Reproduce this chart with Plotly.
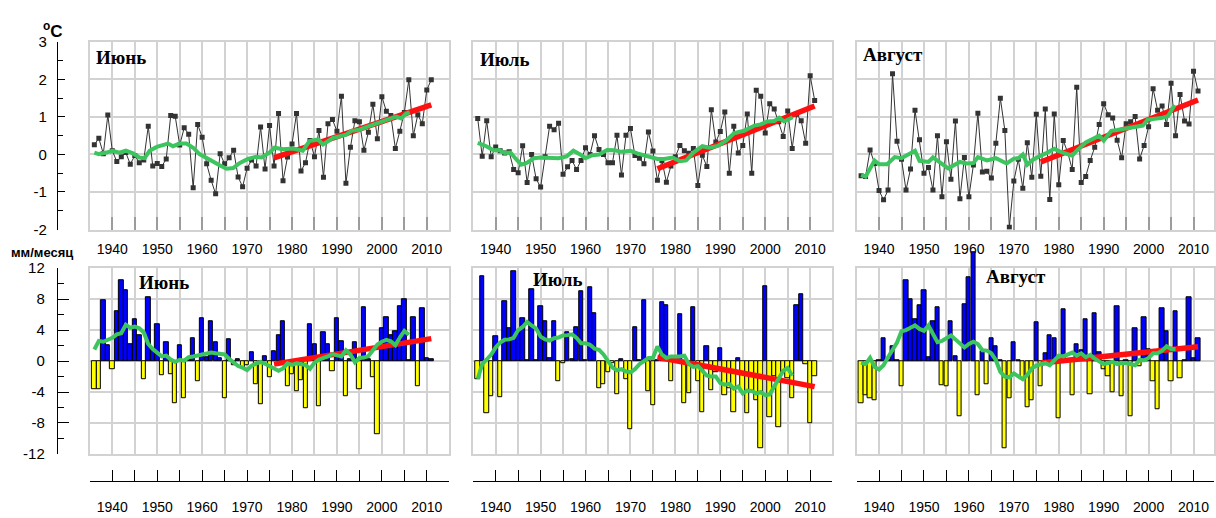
import plotly.graph_objects as go

# ---------------------------------------------------------------- data
YEARS = list(range(1936, 2012))
MONTHS = ["Июнь", "Июль", "Август"]

# Air temperature anomalies, °C
TEMP_JUN = [0.26, 0.43, 0.02, 1.05, 0.10, -0.19, -0.06, 0.05, -0.26, -0.03,
            -0.22, -0.15, 0.75, -0.31, -0.24, -0.32, -0.12, 1.04, 1.02, 0.25,
            0.71, 0.54, -0.89, 0.80, 0.46, -0.25, -0.69, -1.05, 0.02, -0.25,
            -0.09, 0.11, -0.60, -0.86, -0.37, -0.15, -0.31, 0.73, -0.39, 0.77,
            -0.31, 1.09, -0.70, -0.07, 0.28, 1.09, -0.44, -0.22, 0.37, -0.06,
            0.64, -0.61, 0.82, 0.93, 0.62, 1.55, -0.77, 0.19, 0.90, 0.87,
            0.11, 0.59, 1.34, 0.42, 1.54, 1.15, 1.04, 0.16, 0.62, 1.12,
            1.99, 0.50, 1.06, 0.82, 1.72, 1.99]
TEMP_JUL = [0.96, -0.05, 0.90, -0.06, 0.20, 0.10, 0.04, 0.07, -0.40, -0.49,
            0.23, -0.75, 0.00, -0.65, -0.87, -0.06, 0.75, 0.66, 0.83, -0.53,
            -0.33, -0.16, -0.40, -0.16, 0.18, 0.00, 0.50, 0.13, 0.00, -0.22,
            -0.22, 0.51, -0.55, 0.51, 0.69, -0.03, -0.10, -0.25, 0.60, 0.09,
            -0.69, -0.16, -0.74, -0.31, -0.06, 0.24, 0.10, 0.03, 0.16, -0.83,
            -0.02, -0.32, 1.19, 0.33, 0.61, 1.13, -0.50, 0.75, 0.04, 0.24,
            1.08, -0.50, 1.71, 1.55, 0.57, 1.35, 1.21, 0.87, 0.48, 1.16,
            0.16, 1.07, 0.90, 0.30, 2.10, 1.44]
TEMP_AUG = [-0.57, -0.59, 0.12, -0.24, -0.96, -1.21, -0.95, 2.15, 0.35, -0.13,
            -0.95, -0.39, 1.18, 0.39, -0.50, -0.35, -0.95, 0.50, -1.13, 0.34,
            -0.66, 0.89, -1.18, -0.08, -1.13, -0.28, 1.10, -0.47, -0.45, -0.63,
            0.30, 1.50, 0.64, -1.94, -0.71, -0.13, -0.90, 0.31, -0.61, 1.07,
            -0.58, 1.21, -1.20, 1.08, -0.81, 0.37, 0.05, -0.40, 1.79, -0.75,
            -0.59, -0.16, 0.19, 0.80, 1.35, 1.06, 0.97, 0.38, -0.09, 0.82,
            0.87, 1.01, -0.12, 0.24, 0.74, 1.75, 1.18, 1.29, 0.80, 1.90,
            0.50, 1.60, 0.89, 0.81, 2.22, 1.69]

# Smoothed temperature curves (year, value)
TEMP_JUN_SM_X = [1936, 1937, 1938.7, 1940, 1941.6, 1943, 1944.6, 1946, 1947.2, 1948.3,
                 1949.9, 1951.3, 1952.4, 1953.5, 1955, 1956.5, 1958, 1959.4, 1960.9, 1962.4,
                 1963.9, 1965.4, 1966.9, 1968.3, 1970.2, 1972, 1973.2, 1975, 1976.1, 1978,
                 1980.2, 1982.4, 1983.9, 1985.8, 1986.9, 1989.1, 1990.6, 1992.1, 1993.2, 1995,
                 1996.5, 1998, 2000.2, 2001.7, 2003.2, 2004.3, 2005.4, 2006.2]
TEMP_JUN_SM = [0.05, 0.01, 0.05, 0.10, 0.05, 0.10, 0.03, -0.08, -0.10, 0.10,
               0.20, 0.25, 0.29, 0.22, 0.29, 0.29, 0.18, 0.01, -0.10, -0.21,
               -0.29, -0.38, -0.36, -0.23, -0.12, -0.06, -0.08, 0.05, 0.18, 0.14,
               0.16, 0.10, 0.36, 0.40, 0.27, 0.44, 0.49, 0.53, 0.63, 0.66,
               0.73, 0.79, 0.88, 0.96, 1.01, 0.96, 1.09, 1.12]
TEMP_JUL_SM_X = [1936, 1937.9, 1939.5, 1940.7, 1942, 1943.3, 1944.5, 1945.7, 1947, 1948.5,
                 1950, 1952, 1954, 1955.8, 1957.3, 1958.8, 1960, 1961.5, 1963, 1964.8,
                 1966.5, 1968, 1970, 1971.5, 1973, 1974.5, 1976, 1977.5, 1979.4, 1981,
                 1982.4, 1984, 1986, 1987.6, 1989.4, 1991.3, 1993.1, 1995.3, 1997.6, 1999,
                 2000.5, 2002, 2003.1, 2004.2, 2006.1]
TEMP_JUL_SM = [0.31, 0.22, 0.11, 0.12, 0.04, 0.05, -0.12, -0.27, -0.22, -0.10,
               -0.08, -0.08, -0.10, -0.05, 0.10, 0.00, -0.10, -0.02, 0.00, 0.12,
               0.11, 0.07, 0.10, 0.03, -0.02, -0.08, -0.12, -0.12, -0.08, -0.18,
               -0.16, 0.05, 0.22, 0.18, 0.23, 0.37, 0.57, 0.63, 0.77, 0.80,
               0.88, 0.89, 0.98, 0.88, 0.99]
TEMP_AUG_SM_X = [1936, 1937, 1939, 1940, 1941.8, 1943.5, 1945, 1947, 1948, 1949,
                 1951, 1952, 1954, 1955.4, 1958, 1959.5, 1961, 1962, 1964, 1966,
                 1968.4, 1970, 1971, 1972, 1973, 1974, 1976, 1977, 1979, 1980.6,
                 1983, 1984, 1986, 1988, 1989, 1990, 1991.7, 1993, 1996, 1998.7,
                 1999.8, 2001.3, 2002.8, 2004.3, 2005.8]
TEMP_AUG_SM = [-0.55, -0.59, -0.16, -0.26, -0.26, -0.07, -0.10, 0.02, 0.10, -0.17,
               -0.20, -0.08, -0.24, -0.37, -0.20, -0.24, -0.23, -0.07, -0.16, -0.10,
               -0.24, -0.11, -0.10, 0.00, -0.27, -0.16, -0.03, 0.02, 0.15, 0.06,
               -0.03, 0.10, 0.32, 0.43, 0.50, 0.37, 0.63, 0.65, 0.71, 0.77,
               0.93, 0.95, 0.97, 1.02, 1.32]

# Linear trends over 1976-2011
TREND_YEARS = [1976, 2011]
TEMP_JUN_TREND = [-0.09, 1.32]
TEMP_JUL_TREND = [-0.38, 1.29]
TEMP_AUG_TREND = [-0.20, 1.45]

# Precipitation anomalies, mm/month
PREC_JUN = [-3.6, -3.6, 7.9, 2.1, -1.1, 6.5, 10.4, 9.1, 2.2, 5.4,
            3.4, -2.3, 8.2, 1.5, 4.7, -1.8, 2.5, -1.65, -5.4, 2.0,
            -4.8, 0.3, 2.9, -2.6, 5.6, 0.5, 5.2, 2.5, 0.4, -4.8,
            2.8, -0.6, 0.2, -0.9, -0.6, 1.1, -3.0, -5.6, 0.6, -2.1,
            1.3, 3.4, 5.15, -3.2, -1.7, -3.9, -2.5, -6.15, 4.7, 2.2,
            -5.85, 3.7, 2.2, -1.3, 5.6, 2.6, -4.6, 0.2, 2.5, -3.6,
            7.0, 0.3, -2.1, -9.4, 4.2, 5.65, 3.3, 3.8, 7.1, 7.95,
            0.1, 5.65, -3.2, 6.8, 0.4, 0.2]
PREC_JUL = [-2.3, 11.0, -6.8, -4.5, 3.2, -4.7, 7.7, 4.3, 11.6, 3.6,
            5.6, 0.1, 9.35, 0.1, 7.05, 5.1, 0.4, 5.1, -2.6, -0.3,
            3.7, 0.3, 4.4, 9.05, 0.1, 9.55, 6.15, -3.5, -3.0, -1.4,
            -0.3, -4.3, 0.2, -2.3, -8.8, 4.4, 0.1, 7.9, -3.9, -5.7,
            0.1, 7.55, 7.25, -2.6, 0.3, 6.1, -5.4, -4.2, 6.9, -2.6,
            -6.6, 1.9, -3.8, -1.5, 1.7, -4.4, -3.5, -6.6, 0.4, -4.0,
            -6.7, -4.0, -5.1, -11.3, 9.7, -7.2, -1.9, -8.5, -1.3, -2.2,
            -4.8, 7.2, 8.6, -0.4, -8.0, -1.9]
PREC_AUG = [-5.4, -4.45, -4.8, -5.05, 0.1, 2.9, 0.1, 1.9, 0.1, -3.3,
            10.4, 8.0, 5.4, 7.2, 9.1, 0.45, 5.1, 7.0, -3.1, -3.2,
            5.2, 0.6, -7.1, 7.3, 10.8, 14.1, -4.4, 1.25, -3.0, 2.9,
            1.85, 0.1, -11.3, -4.8, 2.4, 0.1, -2.4, -6.0, -5.1, 5.0,
            -3.2, 1.0, 3.35, 2.9, -7.45, 6.65, 0.1, -4.4, 2.2, 1.45,
            5.4, -4.3, 6.2, 1.2, -1.05, -2.0, -4.0, 7.1, -4.55, 0.1,
            -7.15, 4.2, -0.7, 5.6, 1.5, -2.55, -6.2, 6.8, 3.9, -2.65,
            6.5, -2.2, 0.1, 8.25, 0.3, 3.0]

# Smoothed precipitation curves (year, value)
PREC_JUN_SM_X = list(range(1936, 2007))
PREC_JUN_SM = [1.5, 2.6, 2.5, 2.75, 3.0, 3.45, 3.6, 4.7, 4.3, 4.45,
               4.25, 3.7, 2.2, 1.55, 1.1, 0.6, 0.7, 0.2, -0.1, 0.15,
               0.05, 0.5, 0.6, 0.7, 0.8, 0.9, 1.1, 1.0, 0.95, 0.85,
               0.3, -0.2, -0.65, -0.85, -1.15, -0.6, -0.35, -0.1, -0.35, -0.6,
               -0.95, -1.25, -0.95, -0.3, -0.5, -0.3, -0.45, -0.5, -1.0, -0.2,
               0.2, 0.35, 0.6, 0.9, 0.8, 0.6, 1.4, 0.85, -0.15, 0.4,
               0.45, 0.65, 1.4, 2.15, 2.5, 2.75, 2.55, 2.05, 3.05, 3.9,
               3.4]
PREC_JUL_SM_X = list(range(1936, 2007))
PREC_JUL_SM = [-2.3, -0.4, 0.2, 0.85, 1.75, 2.4, 2.75, 2.8, 3.0, 4.0,
               4.4, 5.05, 4.6, 4.2, 3.15, 2.8, 2.65, 2.95, 3.05, 3.3,
               3.35, 3.45, 3.0, 2.3, 2.3, 2.1, 1.6, 1.45, 0.85, 0.0,
               -0.85, -1.2, -1.05, -1.35, -1.45, -1.05, -0.4, 0.0, 0.4, 0.4,
               1.9, 0.85, 0.4, 0.6, 0.55, 0.6, 0.7, -0.4, -0.75, -0.65,
               -1.25, -1.9, -2.0, -2.0, -2.85, -3.05, -2.95, -3.55, -3.3, -4.2,
               -3.8, -3.85, -4.2, -4.0, -4.4, -4.3, -3.3, -2.2, -1.25, -0.9,
               -1.9]
PREC_AUG_SM_X = list(range(1936, 2007))
PREC_AUG_SM = [-0.2, -0.4, 0.4, -0.75, -1.1, -0.55, 0.5, 1.55, 2.4, 3.85,
               4.0, 4.3, 4.6, 4.15, 3.9, 4.6, 3.45, 2.45, 2.6, 3.0,
               3.3, 2.8, 2.2, 1.75, 2.2, 2.5, 2.2, 1.4, 1.35, 1.0,
               0.1, -1.4, -2.0, -2.1, -1.6, -2.0, -2.35, -1.8, -0.95, -0.6,
               -0.4, -0.25, -0.55, 0.1, 0.7, 0.6, 0.8, 1.1, 0.7, 1.0,
               0.5, 0.8, 0.3, -0.1, -0.4, -0.25, -0.1, -0.4, -0.25, -0.25,
               -0.4, -0.55, 0.15, 0.1, 0.4, 1.0, 1.0, 1.35, 1.9, 1.55,
               1.55]

PREC_JUN_TREND = [-0.4, 2.9]
PREC_JUL_TREND = [0.5, -3.3]
PREC_AUG_TREND = [-0.25, 1.85]

TEMP_TICKS = [-2, -1, 0, 1, 2, 3]
PREC_TICKS = [-12, -8, -4, 0, 4, 8, 12]
YEAR_TICKS = [1940, 1950, 1960, 1970, 1980, 1990, 2000, 2010]

# ---------------------------------------------------------------- styling
W, H = 1216, 518
COLS_PX = [(90, 450), (474, 833), (858, 1216)]
TOP_PX = (34, 228)
BOT_PX = (268, 460)
BAR_EXT_TOP_PX = 236
Y_AXIS_PX = 57
X_AXIS_PX = 488
PX_PER_YEAR = 4.5
X0 = 1935

GRID = "#d2d2d2"
TICKGRAY = "#9c9c9c"
GREEN = "#3cc45e"
RED = "#ff1010"
BLUE = "#0000ff"
YELLOW = "#ffff00"
SANS = "Liberation Sans, Arial, sans-serif"
SERIF = "Liberation Serif, Times New Roman, serif"
TICKFONT = dict(family=SANS, size=14, color="black")


def fx(px):
    return px / W


def fy(px):
    return 1 - px / H


def xrange_for(col):
    left, right = COLS_PX[col]
    return [X0, X0 + (right - left) / PX_PER_YEAR]


fig = go.Figure()


def ax(i):
    return "" if i == 1 else str(i)


# ---------------------------------------------------------------- temperature row
temp_sets = [
    (TEMP_JUN, TEMP_JUN_SM_X, TEMP_JUN_SM, TEMP_JUN_TREND),
    (TEMP_JUL, TEMP_JUL_SM_X, TEMP_JUL_SM, TEMP_JUL_TREND),
    (TEMP_AUG, TEMP_AUG_SM_X, TEMP_AUG_SM, TEMP_AUG_TREND),
]
for col, (vals, sx, sy, trend) in enumerate(temp_sets):
    n = col + 1
    xa, ya = "x" + ax(n), "y" + ax(n)
    fig.add_trace(go.Scatter(
        x=YEARS, y=vals, mode="lines+markers", xaxis=xa, yaxis=ya,
        line=dict(color="#333333", width=1),
        marker=dict(symbol="square", size=5, color="#333333"),
        hoverinfo="skip"))
    fig.add_trace(go.Scatter(
        x=TREND_YEARS, y=trend, mode="lines", xaxis=xa, yaxis=ya,
        line=dict(color=RED, width=5.5), hoverinfo="skip"))
    fig.add_trace(go.Scatter(
        x=sx, y=sy, mode="lines", xaxis=xa, yaxis=ya,
        line=dict(color=GREEN, width=4), hoverinfo="skip"))

# ---------------------------------------------------------------- precipitation row
prec_sets = [
    (PREC_JUN, PREC_JUN_SM_X, PREC_JUN_SM, PREC_JUN_TREND, ("x4", "y4")),
    (PREC_JUL, PREC_JUL_SM_X, PREC_JUL_SM, PREC_JUL_TREND, ("x5", "y5")),
    # August bars overshoot the frame, so they live on a taller hidden subplot
    (PREC_AUG, PREC_AUG_SM_X, PREC_AUG_SM, PREC_AUG_TREND, ("x10", "y10")),
]
for vals, sx, sy, trend, (xa, ya) in prec_sets:
    fig.add_trace(go.Bar(
        x=YEARS, y=vals, xaxis=xa, yaxis=ya, width=0.95,
        marker=dict(color=[BLUE if v >= 0 else YELLOW for v in vals],
                    line=dict(color="black", width=1)),
        hoverinfo="skip"))
    fig.add_trace(go.Scatter(
        x=TREND_YEARS, y=trend, mode="lines", xaxis=xa, yaxis=ya,
        line=dict(color=RED, width=5.5), hoverinfo="skip"))
    fig.add_trace(go.Scatter(
        x=sx, y=sy, mode="lines", xaxis=xa, yaxis=ya,
        line=dict(color=GREEN, width=4), hoverinfo="skip"))

# empty traces so the overlay axes get their own subplots
for xa, ya in [("x", "y7"), ("x4", "y8"), ("x7", "y4"), ("x8", "y5"), ("x9", "y6"), ("x6", "y6")]:
    fig.add_trace(go.Scatter(x=[], y=[], xaxis=xa, yaxis=ya, showlegend=False, hoverinfo="skip"))

layout = dict(
    width=W, height=H, margin=dict(l=0, r=0, t=0, b=0),
    paper_bgcolor="white", plot_bgcolor="rgba(0,0,0,0)",
    showlegend=False, bargap=0,
)

top_dom = [fy(TOP_PX[1]), fy(TOP_PX[0])]
bot_dom = [fy(BOT_PX[1]), fy(BOT_PX[0])]

for col in range(3):
    xdom = [fx(COLS_PX[col][0]), min(1.0, fx(COLS_PX[col][1]))]
    rng = xrange_for(col)
    # temperature panel x axis: labels + short grey inner ticks
    n = col + 1
    layout["xaxis" + ax(n)] = dict(
        domain=xdom, range=rng, anchor="y" + ax(n),
        tickmode="array", tickvals=YEAR_TICKS, ticktext=[str(v) for v in YEAR_TICKS],
        showgrid=True, gridcolor=GRID, gridwidth=1.5,
        minor=dict(tickmode="linear", tick0=X0, dtick=5, showgrid=True,
                   gridcolor=GRID, gridwidth=1.5,
                   ticks="inside", ticklen=13, tickwidth=2, tickcolor=TICKGRAY),
        ticks="inside", ticklen=13, tickwidth=2, tickcolor=TICKGRAY,
        showline=True, linecolor=GRID, linewidth=1.5, mirror=True,
        tickfont=TICKFONT, ticklabelstandoff=6, zeroline=False, fixedrange=True)
    layout["yaxis" + ax(n)] = dict(
        domain=top_dom, range=[TEMP_TICKS[0], TEMP_TICKS[-1]], anchor="x" + ax(n),
        tickmode="array", tickvals=TEMP_TICKS, showticklabels=False, ticks="",
        showgrid=True, gridcolor=GRID, gridwidth=1.5, zeroline=False,
        showline=True, linecolor=GRID, linewidth=1.5, mirror=True)

    # precipitation panel
    m = col + 4
    layout["xaxis" + str(m)] = dict(
        domain=xdom, range=rng, anchor="y" + str(m),
        tickmode="array", tickvals=YEAR_TICKS, showticklabels=False, ticks="",
        showgrid=True, gridcolor=GRID, gridwidth=1.5,
        minor=dict(tickmode="linear", tick0=X0, dtick=5, showgrid=True,
                   gridcolor=GRID, gridwidth=1.5),
        showline=True, linecolor=GRID, linewidth=1.5, mirror=True, zeroline=False)
    layout["yaxis" + str(m)] = dict(
        domain=bot_dom, range=[PREC_TICKS[0], PREC_TICKS[-1]], anchor="x" + str(m),
        tickmode="array", tickvals=PREC_TICKS, showticklabels=False, ticks="",
        showgrid=True, gridcolor=GRID, gridwidth=1.5, zeroline=False,
        showline=True, linecolor=GRID, linewidth=1.5, mirror=True)

    # separate black year axis under each precipitation panel
    k = col + 7
    layout["xaxis" + str(k)] = dict(
        overlaying="x" + str(m), anchor="free", position=fy(X_AXIS_PX), side="bottom",
        range=rng, tickmode="array", tickvals=YEAR_TICKS,
        ticktext=[str(v) for v in YEAR_TICKS],
        ticks="inside", ticklen=11, tickwidth=1, tickcolor="black",
        minor=dict(tickmode="linear", tick0=X0, dtick=5, ticks="inside",
                   ticklen=11, tickwidth=1, tickcolor="black", showgrid=False),
        showgrid=False, showline=True, linecolor="black", linewidth=1,
        tickfont=TICKFONT, ticklabelstandoff=13, zeroline=False)

# left value axes, detached from the panels
layout["yaxis7"] = dict(
    overlaying="y", anchor="free", position=fx(Y_AXIS_PX), side="left",
    range=[TEMP_TICKS[0], TEMP_TICKS[-1]], tickmode="array", tickvals=TEMP_TICKS,
    ticktext=[str(v) for v in TEMP_TICKS],
    ticks="inside", ticklen=7, tickwidth=1, tickcolor="black",
    minor=dict(tickmode="linear", tick0=0, dtick=0.5, ticks="inside", ticklen=5,
               tickwidth=1, tickcolor="black", showgrid=False),
    showgrid=False, showline=True, linecolor="black", linewidth=1.2,
    tickfont=dict(family=SANS, size=15, color="black"), ticklabelstandoff=7,
    zeroline=False)
layout["yaxis8"] = dict(
    overlaying="y4", anchor="free", position=fx(Y_AXIS_PX), side="left",
    range=[PREC_TICKS[0], PREC_TICKS[-1]], tickmode="array", tickvals=PREC_TICKS,
    ticktext=[str(v) for v in PREC_TICKS],
    ticks="inside", ticklen=11, tickwidth=1, tickcolor="black",
    minor=dict(tickmode="linear", tick0=0, dtick=2, ticks="inside", ticklen=6,
               tickwidth=1, tickcolor="black", showgrid=False),
    showgrid=False, showline=True, linecolor="black", linewidth=1.2,
    tickfont=dict(family=SANS, size=15, color="black"), ticklabelstandoff=9,
    zeroline=False)

# taller hidden subplot holding the August precipitation marks (same scale)
ext_dom = [fy(BOT_PX[1]), fy(BAR_EXT_TOP_PX)]
span = PREC_TICKS[-1] - PREC_TICKS[0]
ext_top = PREC_TICKS[0] + span * (BOT_PX[1] - BAR_EXT_TOP_PX) / (BOT_PX[1] - BOT_PX[0])
layout["xaxis10"] = dict(domain=[fx(COLS_PX[2][0]), 1.0], range=xrange_for(2),
                         anchor="y10", visible=False)
layout["yaxis10"] = dict(domain=ext_dom, range=[PREC_TICKS[0], ext_top],
                         anchor="x10", visible=False)

fig.update_layout(**layout)

# ---------------------------------------------------------------- text
title_font = dict(family=SERIF, size=19, color="black", weight="bold")
labels = [
    (MONTHS[0], 94, 50), (MONTHS[1], 479, 52), (MONTHS[2], 862, 47),
    (MONTHS[0], 137, 283), (MONTHS[1], 532, 280), (MONTHS[2], 986, 277),
]
for text, px, py in labels:
    fig.add_annotation(text=text, x=fx(px), y=fy(py), xref="paper", yref="paper",
                       xanchor="left", yanchor="middle", showarrow=False, font=title_font)

fig.add_annotation(text="<sup>o</sup>C", x=fx(53), y=fy(22), xref="paper", yref="paper",
                   xanchor="center", yanchor="middle", showarrow=False,
                   font=dict(family=SANS, size=17, color="black", weight="bold"))
fig.add_annotation(text="мм/месяц", x=fx(9), y=fy(252), xref="paper", yref="paper",
                   xanchor="left", yanchor="middle", showarrow=False,
                   font=dict(family=SANS, size=13, color="black", weight="bold"))

fig.write_html("out.html")
